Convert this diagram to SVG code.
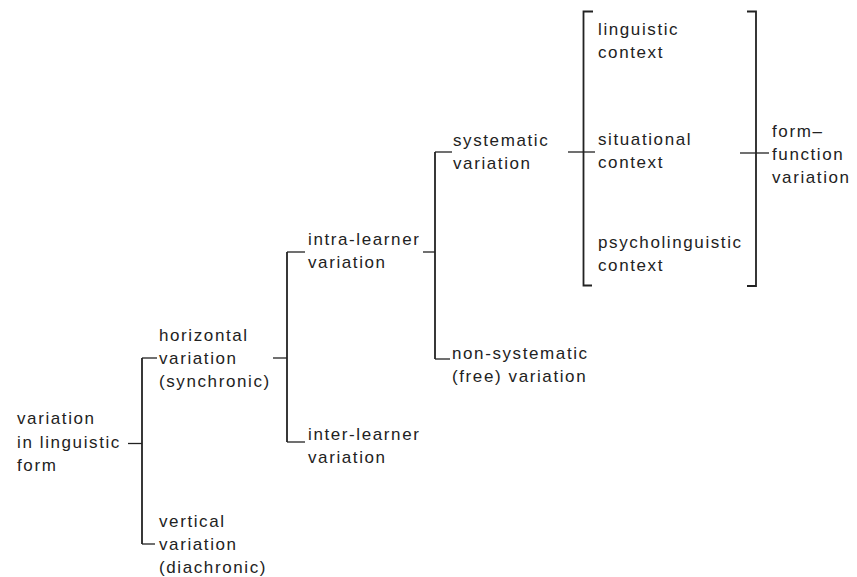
<svg xmlns="http://www.w3.org/2000/svg" width="857" height="577" viewBox="0 0 857 577">
<style>
text{font-family:"Liberation Sans",Arial,sans-serif;font-size:17px;letter-spacing:1.6px;fill:#222}
.c line,.c path{stroke:#222;stroke-width:1.3;fill:none}
.c .v{stroke-width:1.8}
</style>
<rect width="857" height="577" fill="#fff"/>
<g class="c" id="connectors">
<line x1="128" y1="443.5" x2="142" y2="443.5"/>
<line class="v" x1="142" y1="358" x2="142" y2="544"/>
<line x1="142" y1="358" x2="157" y2="358"/>
<line x1="142" y1="544" x2="155" y2="544"/>
<line x1="273" y1="358" x2="287" y2="358"/>
<line class="v" x1="287" y1="252" x2="287" y2="442"/>
<line x1="287" y1="252" x2="305" y2="252"/>
<line x1="287" y1="442" x2="305" y2="442"/>
<line x1="423" y1="252" x2="435" y2="252"/>
<line class="v" x1="435" y1="152" x2="435" y2="359"/>
<line x1="435" y1="152" x2="452" y2="152"/>
<line x1="435" y1="359" x2="450" y2="359"/>
<line x1="568" y1="152" x2="595" y2="152"/>
<path class="v" d="M593,11.5 H583.5 V285.5 H592"/>
<path class="v" d="M747,11.5 H756 V286 H747"/>
<line x1="740" y1="153" x2="769" y2="153"/>
</g>
<g id="n-root"><text x="17" y="424">variation</text><text x="17" y="447.5">in linguistic</text><text x="17" y="471">form</text></g>
<g id="n-horizontal"><text x="159" y="341">horizontal</text><text x="159" y="364">variation</text><text x="159" y="387">(synchronic)</text></g>
<g id="n-vertical"><text x="159" y="527">vertical</text><text x="159" y="550">variation</text><text x="159" y="573">(diachronic)</text></g>
<g id="n-intra"><text x="308" y="245">intra-learner</text><text x="308" y="268">variation</text></g>
<g id="n-inter"><text x="308" y="440">inter-learner</text><text x="308" y="463">variation</text></g>
<g id="n-systematic"><text x="453" y="146">systematic</text><text x="453" y="169">variation</text></g>
<g id="n-nonsystematic"><text x="452" y="359">non-systematic</text><text x="452" y="382">(free) variation</text></g>
<g id="n-linguistic"><text x="598" y="35">linguistic</text><text x="598" y="58">context</text></g>
<g id="n-situational"><text x="598" y="145">situational</text><text x="598" y="168">context</text></g>
<g id="n-psycho"><text x="598" y="248">psycholinguistic</text><text x="598" y="271">context</text></g>
<g id="n-formfunction"><text x="772" y="137">form–</text><text x="772" y="160">function</text><text x="772" y="183">variation</text></g>
</svg>
